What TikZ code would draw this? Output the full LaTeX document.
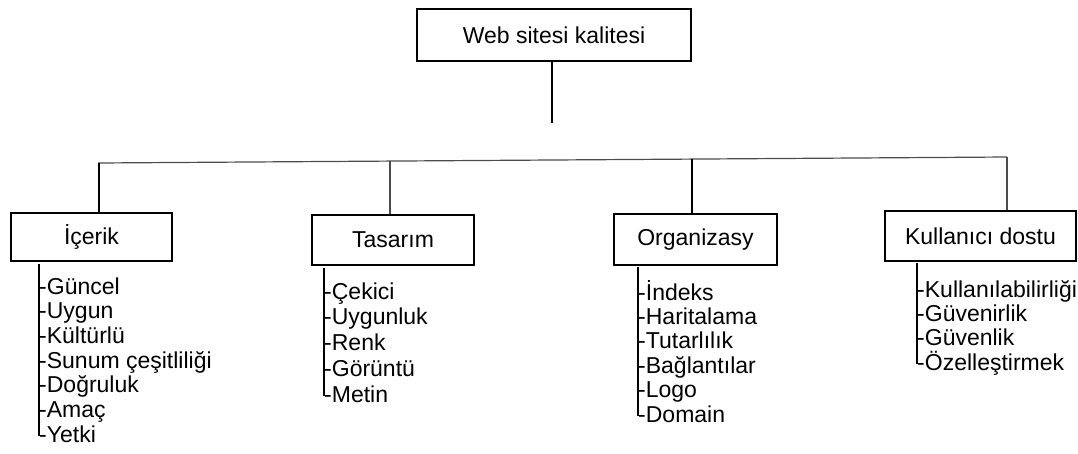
\documentclass[tikz,border=0pt]{standalone}
\usepackage{fontspec}
\setmainfont{Liberation Sans}
\begin{document}
\tikzset{
  box/.style={draw, line width=2pt, inner sep=0pt, font=\fontsize{23}{25}\selectfont},
  item/.style={anchor=base west, inner sep=0pt, font=\fontsize{23}{25}\selectfont},
  stem/.style={line width=2pt},
  thinline/.style={line width=1.2pt, black!70},
}
\begin{tikzpicture}[x=1pt,y=-1pt]
\useasboundingbox (0,0) rectangle (1078,453);
% root
\node[box, minimum width=274pt, minimum height=52pt] (top) at (554,35) {Web sitesi kalitesi};
\coordinate (stemend) at (552,123);
\draw[stem] (top.south -| stemend) -- (stemend);
% horizontal bus
\coordinate (hL) at (98,163);
\coordinate (hR) at (1007,157);
\draw[thinline] (hL) -- (hR);
\coordinate (d1) at (99,163);
\coordinate (d2) at (390,161.1);
\coordinate (d3) at (692,159.1);
\coordinate (d4) at (1007,157);
% category boxes
\node[box, minimum width=161pt, minimum height=48pt] (b1) at (91.5,237) {İçerik};
\node[box, minimum width=162pt, minimum height=50pt] (b2) at (393,240) {Tasarım};
\node[box, minimum width=163pt, minimum height=51pt] (b3) at (695.5,239.5) {Organizasy};
\node[box, minimum width=191pt, minimum height=50pt] (b4) at (980.5,236) {Kullanıcı dostu};
% drops
\draw[line width=1.8pt] (d1) -- (d1 |- b1.north);
\draw[thinline] (d2) -- (d2 |- b2.north);
\draw[line width=1.3pt] (d3) -- (d3 |- b3.north);
\draw[thinline] (d4) -- (d4 |- b4.north);
% lists
\foreach \t [count=\i from 0] in {Güncel,Uygun,Kültürlü,Sunum çeşitliliği,Doğruluk,Amaç,Yetki}
  \node[item] (a\i) at (39,{294+24.7*\i}) {-\t};
\foreach \t [count=\i from 0] in {Çekici,Uygunluk,Renk,Görüntü,Metin}
  \node[item] (c\i) at (324,{299+25.8*\i}) {-\t};
\foreach \t [count=\i from 0] in {İndeks,Haritalama,Tutarlılık,Bağlantılar,Logo,Domain}
  \node[item] (e\i) at (638,{300+24.4*\i}) {-\t};
\foreach \t [count=\i from 0] in {Kullanılabilirliği,Güvenirlik,Güvenlik,Özelleştirmek}
  \node[item] (g\i) at (917,{297+24.4*\i}) {-\t};
% list spines
\draw[stem] ([yshift=-2pt]b1.south -| a0.west) -- ([yshift=6pt]a6.base west);
\draw[stem] ([yshift=-2pt]b2.south -| c0.west) -- ([yshift=6pt]c4.base west);
\draw[stem] ([yshift=-1pt]b3.south -| e0.west) -- ([yshift=6pt]e5.base west);
\draw[stem] ([yshift=-1pt]b4.south -| g0.west) -- ([yshift=6pt]g3.base west);
\end{tikzpicture}
\end{document}
